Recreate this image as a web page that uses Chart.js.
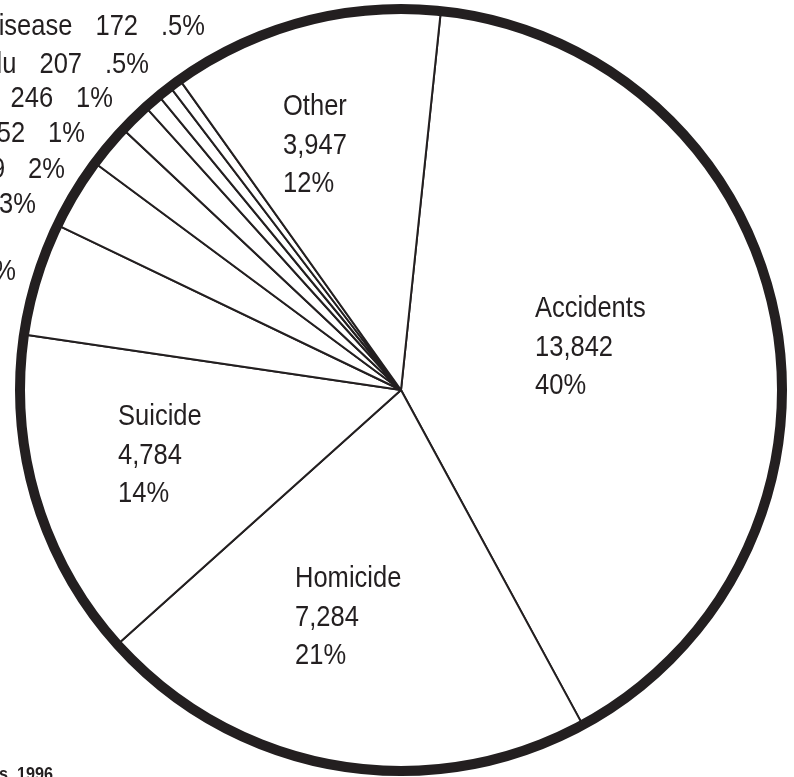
<!DOCTYPE html>
<html>
<head>
<meta charset="utf-8">
<script src="https://cdn.jsdelivr.net/npm/chart.js@4.4.1/dist/chart.umd.min.js"></script>
<style>
  html, body { margin: 0; padding: 0; background: #fff; overflow: hidden; }
  canvas { display: block; }
</style>
</head>
<body>
<canvas id="pie" width="794" height="777"></canvas>
<script>
// Deaths by cause, ages 15-24
const causes = [
  'Accidents', 'Homicide', 'Suicide', 'Malignant neoplasms', 'Heart disease',
  'HIV infection', 'Congenital anomalies', 'Chronic obstructive pulmonary disease',
  'Pneumonia and flu', 'Cerebrovascular disease', 'Other'
];
const deaths = [13842, 7284, 4784, 1642, 1039, 629, 452, 246, 207, 172, 3947];
const percentLabels = ['40%', '21%', '14%', '5%', '3%', '2%', '1%', '1%', '.5%', '.5%', '12%'];
const sourceNote = 'Source: National Center for Health Statistics, 1996';

// Label placement, offsets in px from the pie centre
const insideLabelAt = { 0: [134, -73], 1: [-106, 197], 2: [-283, 35], 10: [-118, -275] };
const outsideLabelAt = {
  3: [-385, -110], 4: [-365, -177], 5: [-336, -212], 6: [-316, -248],
  7: [-288, -283], 8: [-252, -317], 9: [-196, -355]
};

const INK = '#231f20';
const FONT = '29px "Liberation Sans", Arial, Helvetica, sans-serif';
const SX = 0.88;          // condensed look
const LINE = 38.5;
const GAP = 23;

function txt(ctx, s, x, y, align, sx) {
  ctx.save();
  ctx.translate(x, y);
  ctx.scale(sx || SX, 1);
  ctx.textAlign = align;
  ctx.fillText(s, 0, 0);
  ctx.restore();
}
function w(ctx, s) { return ctx.measureText(s).width * SX; }

const ringAndLabels = {
  id: 'ringAndLabels',
  afterDatasetsDraw(chart) {
    const ctx = chart.ctx;
    const arcs = chart.getDatasetMeta(0).data;
    const cx = arcs[0].x, cy = arcs[0].y, r = arcs[0].outerRadius;

    // heavy rim
    ctx.save();
    ctx.beginPath();
    ctx.arc(cx, cy, r, 0, Math.PI * 2);
    ctx.lineWidth = 10;
    ctx.strokeStyle = INK;
    ctx.stroke();
    ctx.restore();

    ctx.save();
    ctx.fillStyle = INK;
    ctx.font = FONT;
    ctx.textBaseline = 'alphabetic';
    deaths.forEach((v, i) => {
      const num = v.toLocaleString('en-US');
      if (insideLabelAt[i]) {
        const [dx, dy] = insideLabelAt[i];
        txt(ctx, causes[i], cx + dx, cy + dy, 'left');
        txt(ctx, num, cx + dx, cy + dy + LINE, 'left');
        txt(ctx, percentLabels[i], cx + dx, cy + dy + 2 * LINE, 'left');
      } else if (outsideLabelAt[i]) {
        const [dx, dy] = outsideLabelAt[i];
        let x = cx + dx;
        const y = cy + dy;
        txt(ctx, percentLabels[i], x, y, 'right');
        x -= w(ctx, percentLabels[i]) + GAP;
        txt(ctx, num, x, y, 'right');
        x -= w(ctx, num) + GAP;
        txt(ctx, causes[i], x, y, 'right');
      }
    });

    // source line
    ctx.font = 'bold 18px "Liberation Sans", Arial, Helvetica, sans-serif';
    txt(ctx, sourceNote, 53, 780, 'right', 0.9);
    ctx.restore();
  }
};

new Chart(document.getElementById('pie'), {
  type: 'pie',
  data: {
    labels: causes,
    datasets: [{
      data: deaths,
      backgroundColor: '#ffffff',
      borderColor: INK,
      borderWidth: 2,
      hoverOffset: 0
    }]
  },
  options: {
    responsive: false,
    animation: false,
    rotation: 6,
    radius: 381,
    layout: { padding: { left: 8, top: 3, right: 0, bottom: 0 } },
    events: [],
    plugins: {
      legend: { display: false },
      tooltip: { enabled: false }
    }
  },
  plugins: [ringAndLabels]
});
</script>
</body>
</html>
